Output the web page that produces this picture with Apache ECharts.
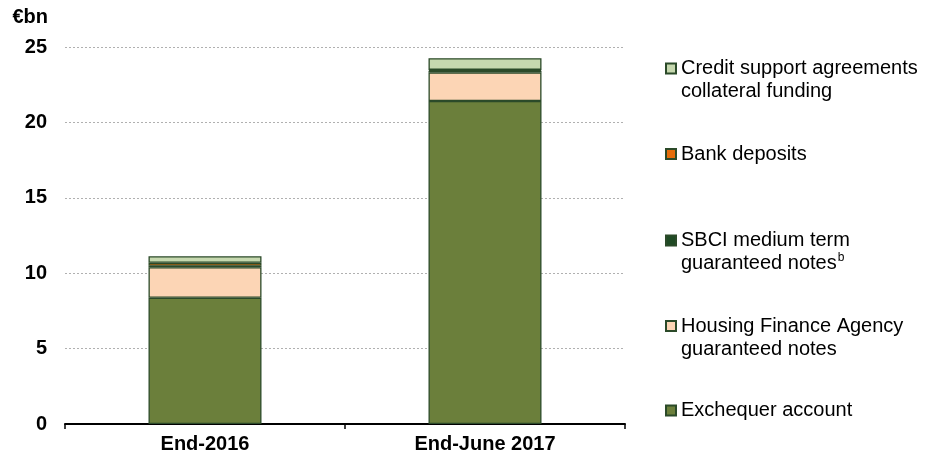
<!DOCTYPE html>
<html>
<head>
<meta charset="utf-8">
<script src="https://cdn.jsdelivr.net/npm/echarts@6/dist/echarts.min.js"></script>
<style>
  html, body { margin: 0; padding: 0; background: #fff; }
  #chart { width: 945px; height: 461px; }
</style>
</head>
<body>
<div id="chart"></div>
<script>
// Categories and stacked components (€bn)
const categories = ['End-2016', 'End-June 2017'];
const exchequer = [8.37, 21.42];
const housing = [2.02, 1.9];
const sbci = [0.1, 0.1];
const bankDeposits = [0.2, 0.06];
const creditSupport = [0.43, 0.78];
const yTicks = [0, 5, 10, 15, 20, 25];

const names = {
  exchequer: 'Exchequer account',
  housing: 'Housing Finance Agency\nguaranteed notes',
  sbci: 'SBCI medium term\nguaranteed notes',
  bank: 'Bank deposits',
  credit: 'Credit support agreements\ncollateral funding'
};

const FONT = '"Liberation Sans", Arial, sans-serif';
const BORDER = '#2b4a29';
const LINE_H = 23;

function bar(name, data, color) {
  return {
    name: name,
    type: 'bar',
    stack: 'total',
    data: data,
    barWidth: 113,
    itemStyle: { color: color, borderColor: BORDER, borderWidth: 1.3 },
    emphasis: { disabled: true }
  };
}

// one legend block per entry so the uneven vertical spacing can be set
function legendAt(name, top, twoLines) {
  return {
    data: [name],
    orient: 'vertical',
    left: 665,
    top: top,
    padding: 0,
    icon: 'rect',
    itemWidth: 10,
    itemHeight: 10,
    itemGap: 5,
    selectedMode: false,
    formatter: function (n) {
      return n === names.sbci ? 'SBCI medium term\nguaranteed notes{sup|b}' : n;
    },
    textStyle: {
      fontFamily: FONT,
      fontSize: 20,
      color: '#000',
      lineHeight: LINE_H,
      padding: twoLines ? [LINE_H, 0, 0, 0] : 0,
      rich: {
        sup: { fontFamily: FONT, fontSize: 12, lineHeight: LINE_H, verticalAlign: 'top', color: '#000', padding: [0, 0, 6, 1] }
      }
    }
  };
}

const chart = echarts.init(document.getElementById('chart'), null, { renderer: 'canvas' });
chart.setOption({
  animation: false,
  backgroundColor: '#fff',
  grid: { left: 65, right: 320, top: 47, bottom: 37, containLabel: false },
  legend: [
    legendAt(names.credit, 34, true),
    legendAt(names.bank, 142.5, false),
    legendAt(names.sbci, 206, true),
    legendAt(names.housing, 291.5, true),
    legendAt(names.exchequer, 399, false)
  ],
  xAxis: {
    type: 'category',
    data: categories,
    axisLine: { lineStyle: { color: '#000', width: 2 } },
    axisTick: { show: true, length: 5, lineStyle: { color: '#000', width: 1.5 } },
    axisLabel: { fontFamily: FONT, fontSize: 20, fontWeight: 'bold', color: '#000', margin: 10 }
  },
  yAxis: {
    type: 'value',
    min: yTicks[0],
    max: yTicks[yTicks.length - 1],
    interval: 5,
    name: '€bn',
    nameLocation: 'end',
    nameGap: 20,
    nameTextStyle: { fontFamily: FONT, fontSize: 20, fontWeight: 'bold', color: '#000', align: 'right', padding: [0, 17, 0, 0] },
    axisLine: { show: false },
    axisTick: { show: false },
    axisLabel: { fontFamily: FONT, fontSize: 20, fontWeight: 'bold', color: '#000', margin: 18 },
    splitLine: { lineStyle: { color: '#b0b0b0', type: [2, 2], width: 1 } }
  },
  series: [
    bar(names.exchequer, exchequer, '#6b7f3b'),
    bar(names.housing, housing, '#fcd5b5'),
    bar(names.sbci, sbci, '#1f4a24'),
    bar(names.bank, bankDeposits, '#e46c0a'),
    bar(names.credit, creditSupport, '#c6d8af')
  ]
});
</script>
</body>
</html>
